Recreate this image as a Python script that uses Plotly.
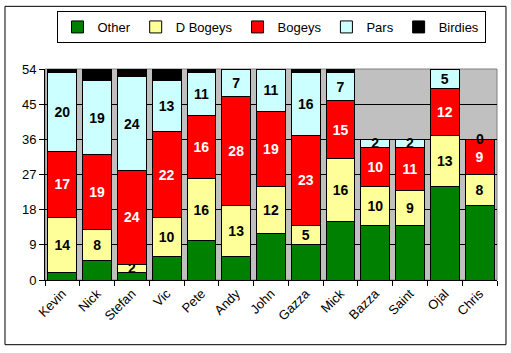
import plotly.graph_objects as go

players = ["Kevin", "Nick", "Stefan", "Vic", "Pete", "Andy", "John", "Gazza", "Mick", "Bazza", "Saint", "Ojal", "Chris"]
other    = [2, 5, 2, 6, 10, 6, 12, 9, 15, 14, 14, 24, 19]
dbogeys  = [14, 8, 2, 10, 16, 13, 12, 5, 16, 10, 9, 13, 8]
bogeys   = [17, 19, 24, 22, 16, 28, 19, 23, 15, 10, 11, 12, 9]
pars     = [20, 19, 24, 13, 11, 7, 11, 16, 7, 2, 2, 5, 0]
birdies  = [1, 3, 2, 3, 1, 0, 0, 1, 1, 0, 0, 0, 0]
yticks = [0, 9, 18, 27, 36, 45, 54]

FONT = "Liberation Sans, Arial, sans-serif"

series = [
    ("Other", other, "#008000", False, "black"),
    ("D Bogeys", dbogeys, "#FFFF99", True, "black"),
    ("Bogeys", bogeys, "#FF0000", True, "white"),
    ("Pars", pars, "#CCFFFF", True, "black"),
    ("Birdies", birdies, "#000000", False, "white"),
]

fig = go.Figure()
base = [0] * len(players)
annotations = []
for name, vals, color, lab, tcol in series:
    fig.add_trace(go.Bar(
        name=name, x=players, y=vals,
        marker=dict(color=color, line=dict(color="black", width=1)),
        text=[str(v) if v > 0 else "" for v in vals] if lab else None,
        textposition="inside" if lab else "none",
        insidetextanchor="middle",
        textangle=0,
        textfont=dict(family=FONT, size=14, color=tcol, weight="bold"),
        constraintext="none",
        cliponaxis=False,
    ))
    if lab:
        for i, v in enumerate(vals):
            if v == 0:
                annotations.append(dict(x=players[i], y=base[i], text="<b>0</b>", showarrow=False,
                                        font=dict(family=FONT, size=14, color=tcol)))
    base = [b + v for b, v in zip(base, vals)]

fig.update_layout(
    barmode="stack",
    bargap=0.17,
    width=511, height=353,
    margin=dict(l=45, r=14, t=68, b=73),
    paper_bgcolor="white",
    plot_bgcolor="#C0C0C0",
    font=dict(family=FONT, size=13, color="black"),
    uniformtext=dict(minsize=14, mode="show"),
    legend=dict(
        orientation="h", x=0.5, xanchor="center", y=1.269, yanchor="top",
        bordercolor="black", borderwidth=1, bgcolor="white", traceorder="normal",
        font=dict(family=FONT, size=13), itemwidth=30, tracegroupgap=0,
    ),
    annotations=annotations,
    showlegend=True,
)
fig.update_xaxes(
    type="category", tickangle=-45, ticks="outside", tickson="boundaries",
    ticklen=5, tickcolor="black", showline=True, linecolor="black",
    showgrid=False, tickfont=dict(family=FONT, size=13),
)
fig.update_yaxes(
    range=[0, 54], tickvals=yticks, ticks="outside", ticklen=5, tickcolor="black",
    showline=True, linecolor="black", showgrid=True, gridcolor="black", gridwidth=1,
    zeroline=False, tickfont=dict(family=FONT, size=13),
)
fig.add_shape(type="rect", xref="paper", yref="paper", x0=0, x1=1, y0=0, y1=1,
              line=dict(color="#808080", width=1), layer="below")
fig.add_shape(type="rect", xref="paper", yref="paper", x0=-0.0885, x1=1.0199, y0=-0.3066, y1=1.297,
              line=dict(color="black", width=1))
fig.write_html("out.html")
